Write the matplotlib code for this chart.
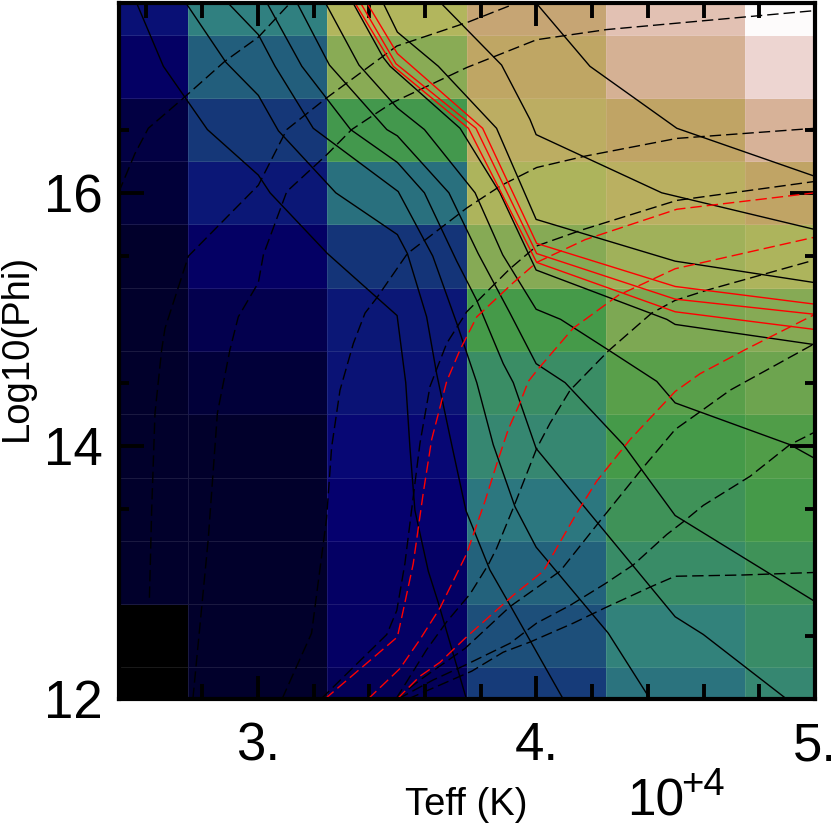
import numpy as np
import matplotlib
matplotlib.use("Agg")
import matplotlib.pyplot as plt
from matplotlib.ticker import MultipleLocator, FixedLocator, FuncFormatter

plt.rcParams['font.family'] = ['Liberation Sans', 'DejaVu Sans']
plt.rcParams['lines.scale_dashes'] = False

teff = [2.5, 3.0, 3.5, 4.0, 4.5, 5.0]
logphi = [12, 12.5, 13, 13.5, 14, 14.5, 15, 15.5, 16, 16.5, 17, 17.5]

col_25 = [0, 0, .0048, .005, .005, .0055, .0065, .0078, .009, .013, .026, .055]
col_30 = [.0045, .005, .0055, .006, .0065, .0115, .016, .024, .07, .122, .2, .282]
col_35 = [.022, .024, .026, .028, .04, .06, .07, .12, .245, .445, .588, .686]
col_40 = [.13, .17, .21, .258, .33, .37, .46, .58, .672, .74, .77, .807]
col_45 = [.25, .30, .36, .41, .46, .496, .56, .643, .73, .785, .857, .903]
col_50 = [.33, .36, .41, .46, .478, .53, .58, .672, .785, .865, .945, 1.0]

solid_a = [(3.999,17.5),(4.192,17.0),(4.504,16.51),(5.0,16.13)]
solid_b = [(3.657,17.5),(3.875,17.01),(3.977,16.58),(3.999,16.46),(4.45,16.0),(5.0,15.71)]
solid_c = [(3.45,17.5),(3.501,17.27),(3.648,17.0),(3.857,16.51),(3.999,15.79),(4.498,15.46),(5.0,15.29)]
solid_d = [(3.342,17.5),(3.45,17.07),(3.475,17.0),(3.726,16.51),(3.869,16.0),(3.999,15.39),(4.468,15.0),(4.498,14.96),(5.0,14.80)]
solid_e = [(3.243,17.5),(3.363,17.01),(3.501,16.67),(3.598,16.50),(3.78,16.0),(3.879,15.51),(3.999,15.08),(4.087,15.0),(4.257,14.76),(4.432,14.51),(4.498,14.34),(4.91,14.01),(5.0,13.90)]
solid_f = [(3.141,17.5),(3.257,17.01),(3.463,16.50),(3.501,16.45),(3.686,16.0),(3.791,15.52),(3.905,15.05),(3.999,14.65),(4.103,14.50),(4.312,14.01),(4.498,13.45),(5.0,12.77)]
solid_g = [(3.033,17.5),(3.158,17.0),(3.333,16.50),(3.501,16.24),(3.598,16.0),(3.714,15.46),(3.786,15.15),(3.881,14.65),(3.917,14.50),(3.999,13.98),(4.498,12.65),(4.599,12.51),(4.898,12.0)]
solid_h = [(2.893,17.5),(3.002,17.25),(3.062,17.0),(3.199,16.51),(3.504,16.01),(3.628,15.50),(3.714,14.97),(3.786,14.50),(3.845,14.01),(3.923,13.52),(3.999,13.20),(4.258,12.52),(4.408,12.0)]
solid_i = [(2.742,17.5),(2.886,17.03),(3.002,16.77),(3.074,16.49),(3.28,16.0),(3.501,15.67),(3.537,15.52),(3.606,15.02),(3.642,14.57),(3.696,14.01),(3.747,13.49),(3.833,13.02),(3.911,12.72),(4.096,12.0)]
solid_j = [(2.565,17.5),(2.661,17.0),(2.819,16.50),(3.002,16.14),(3.044,16.0),(3.25,15.52),(3.50,15.03),(3.531,14.50),(3.546,13.99),(3.564,13.49),(3.612,13.01),(3.648,12.76),(3.746,12.02)]

red_1 = [(3.392,17.5),(3.501,17.10),(3.807,16.51),(4.001,15.60),(4.498,15.26),(5.0,15.12)]
red_2 = [(3.369,17.5),(3.496,17.02),(3.783,16.51),(4.001,15.52),(4.498,15.16),(5.0,15.04)]
red_3 = [(3.349,17.5),(3.486,17.0),(3.756,16.51),(4.001,15.45),(4.498,15.06),(5.0,14.92)]

dash_a = [(2.5,16.0),(2.559,16.31),(2.607,16.51),(2.739,16.76),(2.882,17.04),(3.002,17.23),(3.116,17.5)]
dash_b = [(2.611,12.8),(2.619,13.49),(2.631,14.26),(2.655,14.76),(2.667,14.93),(2.751,15.50),(3.002,16.06),(3.104,16.50),(3.247,16.75),(3.499,17.16),(3.756,17.35),(3.929,17.5)]
dash_c = [(2.767,12.0),(2.822,13.26),(2.855,14.26),(2.90,14.76),(2.93,15.02),(3.002,15.29),(3.02,15.51),(3.104,16.01),(3.247,16.30),(3.337,16.50),(3.481,16.71),(3.75,16.99),(4.001,17.21),(4.252,17.29),(5.0,17.44)]
dash_d = [(3.087,12.0),(3.193,12.52),(3.247,13.43),(3.265,13.99),(3.295,14.44),(3.343,14.81),(3.385,15.05),(3.427,15.17),(3.537,15.52),(3.75,15.88),(3.875,16.06),(4.001,16.20),(4.175,16.29),(4.504,16.43),(5.0,16.51)]
dash_e = [(3.227,12.0),(3.463,12.51),(3.499,12.70),(3.528,13.07),(3.582,14.02),(3.618,14.47),(3.678,14.81),(3.75,15.06),(3.905,15.40),(4.001,15.58),(4.168,15.71),(4.504,15.94),(5.0,16.09)]
dash_h = [(3.496,12.0),(3.606,12.39),(3.678,12.61),(3.762,12.83),(3.827,13.06),(3.857,13.19),(3.917,13.51),(4.001,13.98),(4.049,14.18),(4.121,14.44),(4.258,14.75),(4.414,15.05),(4.498,15.15),(4.611,15.23),(5.0,15.47)]
dash_j = [(3.496,12.0),(3.582,12.15),(3.744,12.40),(3.905,12.73),(4.085,13.01),(4.222,13.39),(4.372,13.80),(4.498,14.13),(4.575,14.25),(4.695,14.44),(5.0,14.81)]
dash_k = [(3.503,12.0),(3.629,12.15),(3.737,12.26),(3.905,12.44),(4.001,12.60),(4.121,12.74),(4.246,12.91),(4.348,13.06),(4.468,13.30),(4.527,13.40),(4.599,13.53),(4.767,13.76),(4.91,14.01),(5.0,14.11)]
dash_l = [(3.539,12.0),(3.768,12.22),(3.881,12.37),(3.977,12.45),(4.133,12.60),(4.246,12.72),(4.414,12.89),(4.498,12.97),(4.742,12.98),(5.0,13.0)]

dashred_f = [(3.241,12.0),(3.501,12.49),(3.522,12.70),(3.558,13.07),(3.594,13.63),(3.624,14.05),(3.678,14.51),(3.726,14.76),(3.786,15.02),(3.917,15.29),(4.001,15.45),(4.175,15.63),(4.504,15.87),(5.0,16.0)]
dashred_g = [(3.396,12.0),(3.510,12.24),(3.582,12.47),(3.654,12.72),(3.75,13.15),(3.78,13.34),(3.815,13.56),(3.858,13.86),(3.899,14.13),(3.941,14.34),(3.971,14.51),(4.007,14.61),(4.132,14.93),(4.294,15.19),(4.498,15.40),(5.0,15.65)]
dashred_i = [(3.50,12.0),(3.582,12.18),(3.654,12.29),(3.744,12.48),(3.917,12.82),(4.025,13.01),(4.085,13.24),(4.145,13.47),(4.216,13.72),(4.336,14.05),(4.498,14.43),(4.587,14.57),(4.749,14.76),(5.0,15.04)]

W, H = 831, 825
fig = plt.figure(figsize=(W / 100, H / 100), dpi=100)
ax = fig.add_axes([118.5 / W, 1 - 699 / H, (815 - 118.5) / W, (699 - 3) / H])

Z = np.array([col_25, col_30, col_35, col_40, col_45, col_50]).T
ax.pcolormesh(teff, logphi, Z, cmap='gist_earth', vmin=0, vmax=1, shading='nearest',
              edgecolors=(1, 1, 1, 0.10), linewidth=0.6, zorder=1)
ax.set_xlim(2.5, 5.0)
ax.set_ylim(12, 17.5)

LW = 1.0
DASH = (0, (8.2, 3.6))
for pts in [solid_a, solid_b, solid_c, solid_d, solid_e, solid_f, solid_g, solid_h, solid_i, solid_j]:
    ax.plot(*zip(*pts), color='black', lw=LW, zorder=2)
for pts in [dash_a, dash_b, dash_c, dash_d, dash_e, dash_h, dash_j, dash_k, dash_l]:
    ax.plot(*zip(*pts), color='black', lw=LW, ls=DASH, zorder=2)
for pts in [dashred_f, dashred_g, dashred_i]:
    ax.plot(*zip(*pts), color='red', lw=LW, ls=DASH, zorder=3)
for pts in [red_1, red_2, red_3]:
    ax.plot(*zip(*pts), color='red', lw=LW, zorder=3)

for s in ax.spines.values():
    s.set_linewidth(3.0)
    s.set_zorder(6)

ax.xaxis.set_major_locator(MultipleLocator(1))
ax.xaxis.set_minor_locator(MultipleLocator(0.2))
ax.xaxis.set_major_formatter(FuncFormatter(lambda v, p: f"{v:.0f}."))
ax.yaxis.set_major_locator(MultipleLocator(2))
ax.yaxis.set_minor_locator(FixedLocator([12.5, 13.5, 14.5, 15.5, 16.5, 17.5]))

ax.tick_params(axis='x', which='major', direction='in', top=True, bottom=True, length=16.5, width=2.8, labelsize=38, pad=16)
ax.tick_params(axis='x', which='minor', direction='in', top=True, bottom=True, length=10.5, width=2.8)
ax.tick_params(axis='y', which='major', direction='in', left=True, right=True, length=18, width=2.8, labelsize=38, pad=11.5)
ax.tick_params(axis='y', which='minor', direction='in', left=True, right=True, length=7.2, width=2.8)

for side in ('left', 'right'):
    sec = ax.secondary_yaxis(side)
    sec.set_yticks([13, 15, 17])
    sec.tick_params(axis='y', which='major', direction='in', length=12, width=2.8,
                    labelleft=False, labelright=False)
    sec.spines[side].set_visible(False)

fig.text(466 / W, 1 - 805 / H, "Teff (K)", fontsize=27.5, ha='center', va='center')
fig.text(17 / W, 1 - 347 / H, "Log10(Phi)", fontsize=27.5, rotation=90, ha='center', va='center')
fig.text(627 / W, 1 - 815 / H, "10", fontsize=37, ha='left', va='baseline')
fig.text(681 / W, 1 - 795 / H, "+4", fontsize=27.5, ha='left', va='baseline')

fig.savefig("out.png", dpi=100)
